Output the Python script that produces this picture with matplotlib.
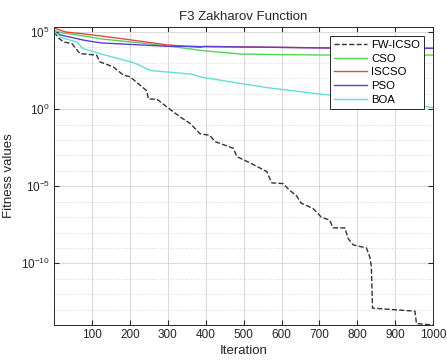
import matplotlib.pyplot as plt
import numpy as np
from matplotlib.ticker import FixedLocator, LogFormatterMathtext, NullFormatter

plt.rcParams['font.family'] = ['Liberation Sans', 'DejaVu Sans']
plt.rcParams['mathtext.fontset'] = 'custom'
plt.rcParams['mathtext.rm'] = 'Liberation Sans'
plt.rcParams['mathtext.it'] = 'Liberation Sans:italic'
plt.rcParams['mathtext.bf'] = 'Liberation Sans:bold'

# convergence curves (iteration, log10 of fitness)
fw_iter = [0, 12, 25, 47, 68, 112, 121, 156, 183, 200, 227, 244, 249, 271, 297,
           332, 359, 385, 411, 424, 473, 482, 518, 561, 574, 604, 621, 639, 652,
           683, 705, 727, 736, 767, 776, 789, 824, 833, 837, 840, 952, 956, 1000]
fw_log = [5.0, 4.6, 4.35, 4.25, 3.6, 3.5, 3.06, 2.74, 2.2, 2.1, 1.55, 1.2, 0.65,
          0.65, 0.15, -0.5, -0.93, -1.6, -1.7, -2.1, -2.54, -3.08, -3.5, -4.05,
          -4.78, -4.83, -5.26, -5.6, -6.1, -6.44, -7.0, -7.2, -7.7, -7.7, -8.4,
          -8.8, -9.0, -9.6, -10.2, -12.9, -13.1, -13.9, -14.0]

cso_iter = [0, 20, 45, 124, 255, 361, 387, 492, 600, 755, 1000]
cso_log = [5.1, 4.95, 4.87, 4.55, 4.22, 3.9, 3.8, 3.57, 3.53, 3.5, 3.5]

iscso_iter = [0, 30, 80, 168, 299, 387, 395, 600, 755, 1000]
iscso_log = [5.25, 5.0, 4.87, 4.6, 4.16, 4.0, 4.07, 4.0, 3.96, 3.94]

pso_iter = [0, 18, 80, 124, 299, 361, 387, 600, 755, 1000]
pso_log = [5.0, 4.8, 4.46, 4.29, 4.07, 4.07, 4.05, 4.0, 3.95, 3.94]

boa_iter = [0, 12, 18, 62, 75, 124, 211, 255, 361, 387, 474, 563, 703, 737, 1000]
boa_log = [5.0, 4.8, 4.65, 4.33, 3.94, 3.57, 3.0, 2.5, 2.27, 2.08, 1.73, 1.39, 0.97, 0.9, 0.1]

labels = ['FW-ICSO', 'CSO', 'ISCSO', 'PSO', 'BOA']

fig = plt.figure(figsize=(4.47, 3.6), dpi=100)
ax = fig.add_axes([0.121, 0.097, 0.848, 0.828])

ax.semilogy(fw_iter, 10.0 ** np.array(fw_log), '--', color='#333333', lw=1.0, label=labels[0])
ax.semilogy(cso_iter, 10.0 ** np.array(cso_log), color='#55d455', lw=1.0, label=labels[1])
ax.semilogy(iscso_iter, 10.0 ** np.array(iscso_log), color='#e8454a', lw=1.0, label=labels[2])
ax.semilogy(pso_iter, 10.0 ** np.array(pso_log), color='#5a40d0', lw=1.0, label=labels[3])
ax.semilogy(boa_iter, 10.0 ** np.array(boa_log), color='#60e0d8', lw=1.0, label=labels[4])

ax.set_xlim(0, 1000)
ax.set_ylim(1e-14, 2.1e5)
ax.set_xticks(range(100, 1001, 100))
ax.yaxis.set_major_locator(FixedLocator([1e-10, 1e-5, 1e0, 1e5]))
ax.yaxis.set_major_formatter(LogFormatterMathtext())
ax.yaxis.set_minor_locator(FixedLocator([10.0 ** k for k in range(-14, 6)]))
ax.yaxis.set_minor_formatter(NullFormatter())

ax.grid(True, which='major', color='#d8d8d8', lw=0.7)
ax.grid(True, which='minor', axis='y', color='#d8d8d8', lw=0.7, ls=':')
ax.tick_params(direction='in', top=True, right=True, labelsize=8.5, colors='#262626', pad=3)
ax.tick_params(which='minor', length=0)
for s in ax.spines.values():
    s.set_color('#262626')
    s.set_linewidth(0.7)

ax.set_title('F3 Zakharov Function', fontsize=9.5, color='#262626', pad=5)
ax.set_xlabel('Iteration', fontsize=9.5, color='#262626', labelpad=3)
ax.set_ylabel('Fitness values', fontsize=9.5, color='#262626', labelpad=4)

leg = ax.legend(loc='upper right', fontsize=8.2, fancybox=False, edgecolor='#262626',
                framealpha=1, handlelength=2.9, handletextpad=0.35, borderaxespad=0.8,
                labelspacing=0.32, borderpad=0.35)
leg.get_frame().set_linewidth(0.7)

plt.savefig('out.png', dpi=100)
